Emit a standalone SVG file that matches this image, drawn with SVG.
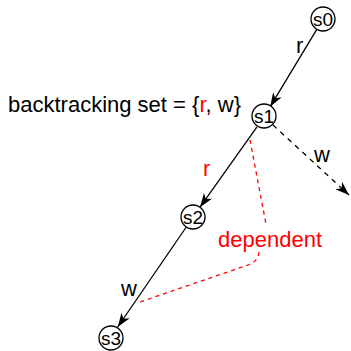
<svg xmlns="http://www.w3.org/2000/svg" width="351" height="351" viewBox="0 0 351 351">
<style>
text{font-family:"Liberation Sans",Arial,Helvetica,sans-serif;fill:#000}
.node circle{fill:#fff;stroke:#000;stroke-width:1.3}
.node text{font-size:19px;text-anchor:middle;dominant-baseline:central}
.edge{stroke:#000;stroke-width:1.3;fill:none}
.dash{stroke-dasharray:5,5}
.lbl{font-size:22px}
.red{fill:#ff0000}
.dep{stroke:#ff0000;stroke-width:1.3;fill:none;stroke-dasharray:4,4}
</style>
<defs>
<marker id="arr" markerWidth="15" markerHeight="11" refX="14" refY="5" orient="auto" markerUnits="userSpaceOnUse">
<path d="M0,0 L14,5 L0,10 L4,5 z" fill="#000"/>
</marker>
</defs>
<g id="connectors">
<line class="edge" x1="316.8" y1="29.3" x2="270.2" y2="106.7" marker-end="url(#arr)"/>
<line class="edge" x1="257" y1="126.8" x2="200" y2="207.2" marker-end="url(#arr)"/>
<line class="edge" x1="186.3" y1="227" x2="117.7" y2="327" marker-end="url(#arr)"/>
<line class="edge dash" x1="273" y1="125" x2="349" y2="195" marker-end="url(#arr)"/>
<path class="dep" d="M250,140 L266,224"/>
<path class="dep" d="M259,252 Q258,262 248,265 L140,302"/>
</g>
<g id="labels">
<text class="lbl" x="296" y="53">r</text>
<text class="lbl" x="314" y="162">w</text>
<text class="lbl red" x="203" y="176">r</text>
<text class="lbl" x="121" y="296">w</text>
<text class="lbl red" x="270" y="247" text-anchor="middle">dependent</text>
<text x="8" y="112" style="font-size:22px">backtracking set = {<tspan class="red">r</tspan>, w}</text>
</g>
<g id="s0" class="node"><circle cx="323" cy="19" r="12"/><text x="323" y="19">s0</text></g>
<g id="s1" class="node"><circle cx="264" cy="116" r="12"/><text x="264" y="116">s1</text></g>
<g id="s2" class="node"><circle cx="193" cy="217" r="12"/><text x="193" y="217">s2</text></g>
<g id="s3" class="node"><circle cx="111" cy="338" r="12"/><text x="111" y="338">s3</text></g>
</svg>
